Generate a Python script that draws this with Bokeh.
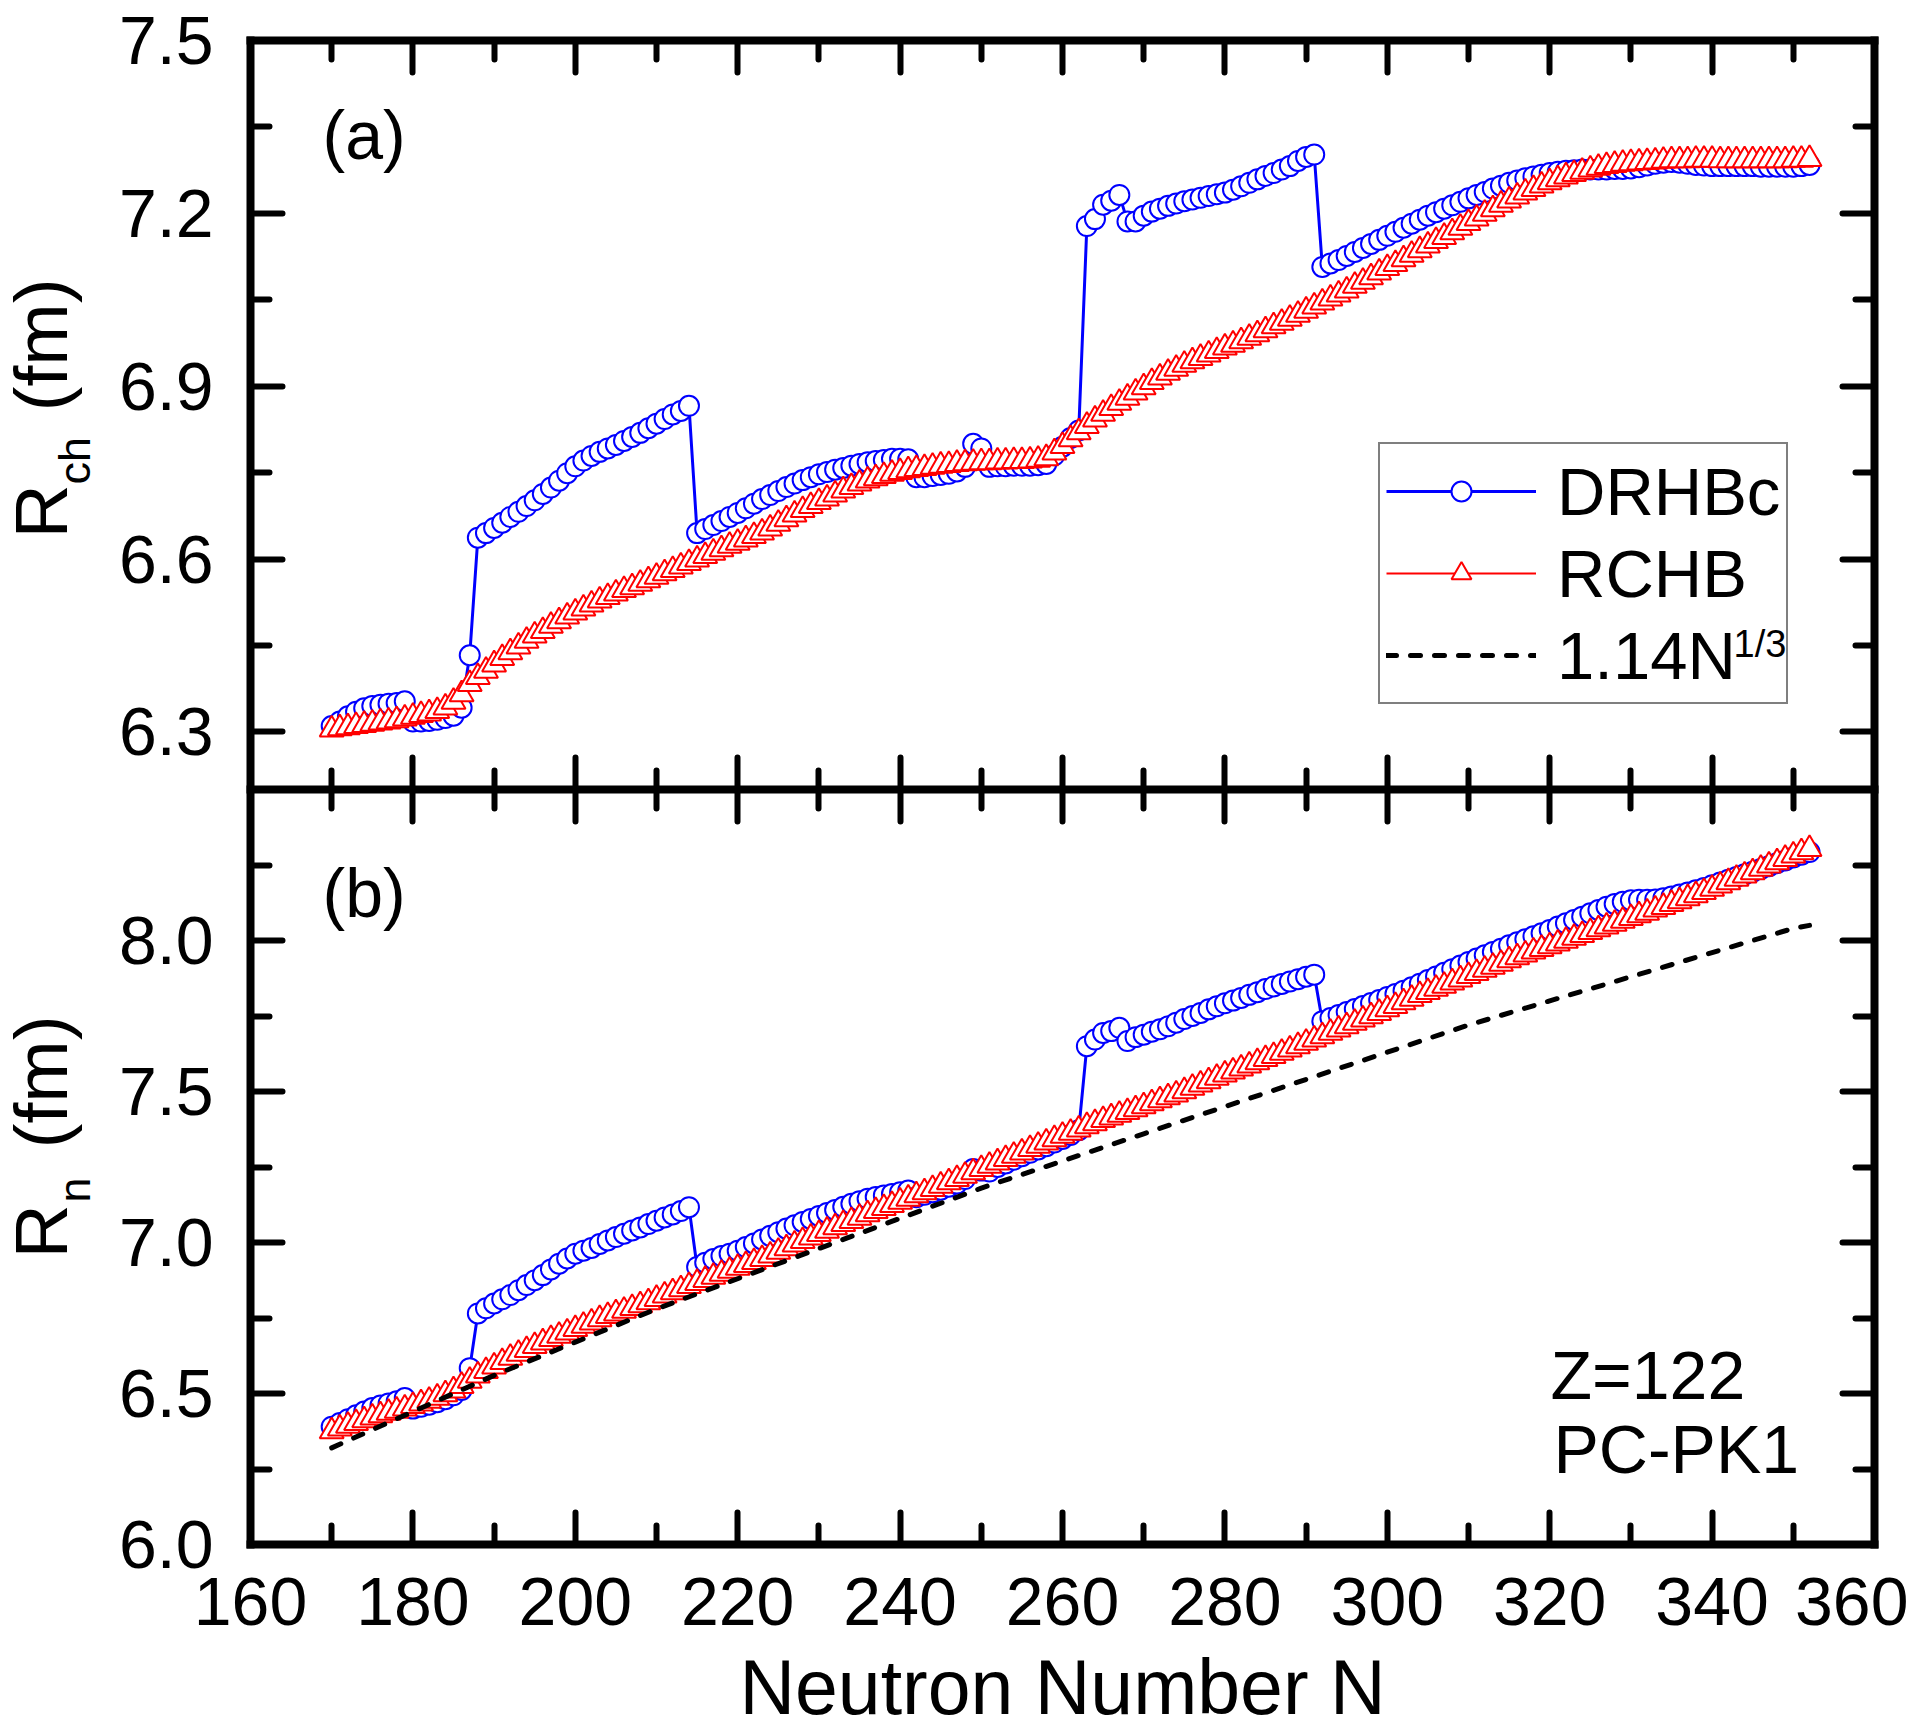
import math
from bokeh.plotting import figure
from bokeh.layouts import column, row
from bokeh.models import (Range1d, FixedTicker, PrintfTickFormatter, LinearAxis,
                          Label, Legend, LegendItem, ColumnDataSource)
from bokeh.embed import file_html
from bokeh.resources import INLINE

FONT = "Liberation Sans"

# neutron numbers (one point per N)
n_vals = list(range(170, 353))

# (a) charge radius, fm
rch_drhbc = [
    6.310, 6.318, 6.327, 6.335, 6.341, 6.345, 6.347, 6.349, 6.350, 6.353,
    6.318, 6.318, 6.319, 6.321, 6.324, 6.328, 6.342, 6.433, 6.637, 6.645,
    6.654, 6.663, 6.673, 6.682, 6.692, 6.702, 6.713, 6.724, 6.736, 6.749,
    6.761, 6.771, 6.779, 6.786, 6.792, 6.798, 6.805, 6.812, 6.819, 6.827,
    6.835, 6.843, 6.851, 6.857, 6.866, 6.645, 6.652, 6.659, 6.666, 6.673,
    6.680, 6.688, 6.696, 6.704, 6.711, 6.718, 6.725, 6.731, 6.737, 6.742,
    6.747, 6.751, 6.755, 6.758, 6.762, 6.765, 6.768, 6.770, 6.772, 6.774,
    6.774, 6.773, 6.742, 6.742, 6.744, 6.746, 6.748, 6.752, 6.760, 6.800,
    6.792, 6.760, 6.761, 6.761, 6.762, 6.762, 6.762, 6.763, 6.765, 6.780,
    6.795, 6.810, 6.823, 7.178, 7.190, 7.215, 7.222, 7.232, 7.186, 7.186,
    7.196, 7.203, 7.208, 7.213, 7.217, 7.221, 7.224, 7.227, 7.230, 7.233,
    7.236, 7.241, 7.247, 7.253, 7.259, 7.265, 7.270, 7.276, 7.282, 7.291,
    7.298, 7.302, 7.107, 7.113, 7.119, 7.126, 7.133, 7.140, 7.147, 7.154,
    7.161, 7.168, 7.175, 7.182, 7.189, 7.196, 7.202, 7.208, 7.214, 7.220,
    7.226, 7.232, 7.237, 7.243, 7.248, 7.253, 7.257, 7.261, 7.264, 7.267,
    7.270, 7.272, 7.274, 7.275, 7.276, 7.276, 7.276, 7.276, 7.277, 7.277,
    7.278, 7.280, 7.283, 7.286, 7.288, 7.289, 7.288, 7.286, 7.284, 7.283,
    7.282, 7.282, 7.282, 7.282, 7.282, 7.282, 7.281, 7.281, 7.281, 7.281,
    7.281, 7.282, 7.284,
]
rch_rchb = [
    6.304, 6.306, 6.308, 6.310, 6.312, 6.314, 6.316, 6.318, 6.320, 6.323,
    6.326, 6.329, 6.332, 6.336, 6.342, 6.352, 6.365, 6.383, 6.395, 6.406,
    6.417, 6.428, 6.438, 6.448, 6.458, 6.467, 6.475, 6.484, 6.492, 6.500,
    6.507, 6.514, 6.521, 6.528, 6.534, 6.540, 6.546, 6.551, 6.557, 6.563,
    6.569, 6.575, 6.581, 6.587, 6.593, 6.599, 6.605, 6.611, 6.617, 6.623,
    6.628, 6.634, 6.640, 6.646, 6.653, 6.661, 6.669, 6.677, 6.685, 6.692,
    6.699, 6.705, 6.712, 6.719, 6.725, 6.731, 6.736, 6.740, 6.744, 6.748,
    6.751, 6.754, 6.756, 6.758, 6.760, 6.762, 6.763, 6.765, 6.766, 6.767,
    6.768, 6.768, 6.769, 6.769, 6.770, 6.770, 6.771, 6.772, 6.775, 6.785,
    6.796, 6.808, 6.820, 6.831, 6.842, 6.852, 6.862, 6.871, 6.880, 6.889,
    6.898, 6.907, 6.915, 6.923, 6.930, 6.937, 6.943, 6.949, 6.955, 6.961,
    6.967, 6.972, 6.978, 6.984, 6.990, 6.997, 7.004, 7.010, 7.017, 7.024,
    7.031, 7.038, 7.045, 7.052, 7.059, 7.066, 7.074, 7.081, 7.089, 7.097,
    7.105, 7.112, 7.120, 7.128, 7.136, 7.144, 7.152, 7.159, 7.167, 7.175,
    7.183, 7.191, 7.199, 7.207, 7.215, 7.222, 7.229, 7.236, 7.242, 7.248,
    7.254, 7.259, 7.264, 7.268, 7.272, 7.276, 7.279, 7.282, 7.284, 7.286,
    7.287, 7.288, 7.289, 7.290, 7.291, 7.292, 7.292, 7.292, 7.293, 7.293,
    7.293, 7.292, 7.292, 7.292, 7.292, 7.292, 7.292, 7.292, 7.292, 7.292,
    7.293, 7.293, 7.294,
]

# (b) neutron radius, fm
rn_drhbc = [
    6.390, 6.402, 6.415, 6.428, 6.440, 6.452, 6.460, 6.467, 6.474, 6.485,
    6.450, 6.456, 6.463, 6.471, 6.481, 6.494, 6.512, 6.584, 6.765, 6.782,
    6.798, 6.812, 6.826, 6.842, 6.859, 6.875, 6.892, 6.911, 6.930, 6.947,
    6.963, 6.973, 6.982, 6.995, 7.007, 7.018, 7.029, 7.040, 7.050, 7.061,
    7.072, 7.083, 7.093, 7.104, 7.117, 6.919, 6.933, 6.945, 6.955, 6.963,
    6.973, 6.985, 6.997, 7.010, 7.022, 7.034, 7.046, 7.057, 7.068, 7.078,
    7.088, 7.098, 7.108, 7.118, 7.128, 7.137, 7.145, 7.151, 7.156, 7.161,
    7.166, 7.172, 7.150, 7.158, 7.166, 7.175, 7.185, 7.195, 7.210, 7.243,
    7.238, 7.235, 7.250, 7.262, 7.274, 7.286, 7.297, 7.308, 7.319, 7.331,
    7.343, 7.356, 7.372, 7.650, 7.672, 7.694, 7.700, 7.711, 7.667, 7.680,
    7.688, 7.698, 7.706, 7.716, 7.728, 7.740, 7.750, 7.760, 7.772, 7.782,
    7.792, 7.801, 7.810, 7.820, 7.829, 7.839, 7.848, 7.856, 7.864, 7.872,
    7.880, 7.887, 7.733, 7.743, 7.753, 7.763, 7.773, 7.783, 7.793, 7.803,
    7.813, 7.823, 7.834, 7.845, 7.857, 7.869, 7.881, 7.893, 7.905, 7.917,
    7.929, 7.940, 7.951, 7.962, 7.973, 7.984, 7.994, 8.004, 8.014, 8.024,
    8.035, 8.046, 8.057, 8.068, 8.079, 8.090, 8.101, 8.112, 8.121, 8.128,
    8.133, 8.135, 8.135, 8.136, 8.140, 8.146, 8.152, 8.159, 8.166, 8.174,
    8.183, 8.192, 8.201, 8.210, 8.219, 8.228, 8.237, 8.246, 8.256, 8.265,
    8.275, 8.284, 8.293,
]
rn_rchb = [
    6.375, 6.384, 6.393, 6.402, 6.411, 6.420, 6.428, 6.436, 6.443, 6.450,
    6.458, 6.467, 6.476, 6.486, 6.497, 6.510, 6.525, 6.542, 6.559, 6.574,
    6.589, 6.604, 6.618, 6.631, 6.644, 6.657, 6.669, 6.680, 6.691, 6.702,
    6.713, 6.724, 6.735, 6.746, 6.756, 6.765, 6.774, 6.783, 6.792, 6.802,
    6.813, 6.824, 6.835, 6.845, 6.856, 6.866, 6.876, 6.886, 6.896, 6.906,
    6.916, 6.925, 6.935, 6.945, 6.957, 6.969, 6.981, 6.993, 7.005, 7.016,
    7.028, 7.039, 7.050, 7.061, 7.071, 7.082, 7.093, 7.104, 7.114, 7.124,
    7.135, 7.145, 7.156, 7.166, 7.177, 7.188, 7.199, 7.210, 7.221, 7.232,
    7.243, 7.254, 7.265, 7.276, 7.287, 7.298, 7.309, 7.320, 7.331, 7.342,
    7.353, 7.363, 7.374, 7.385, 7.395, 7.405, 7.414, 7.423, 7.432, 7.441,
    7.451, 7.461, 7.471, 7.481, 7.490, 7.501, 7.512, 7.523, 7.534, 7.545,
    7.556, 7.566, 7.576, 7.586, 7.597, 7.607, 7.617, 7.628, 7.639, 7.650,
    7.661, 7.672, 7.683, 7.694, 7.705, 7.716, 7.727, 7.738, 7.749, 7.760,
    7.772, 7.783, 7.795, 7.807, 7.819, 7.829, 7.840, 7.850, 7.861, 7.871,
    7.882, 7.892, 7.903, 7.913, 7.923, 7.934, 7.944, 7.953, 7.963, 7.972,
    7.981, 7.990, 7.999, 8.009, 8.018, 8.028, 8.037, 8.046, 8.055, 8.065,
    8.074, 8.083, 8.092, 8.102, 8.111, 8.121, 8.130, 8.140, 8.150, 8.160,
    8.171, 8.182, 8.193, 8.204, 8.215, 8.226, 8.237, 8.248, 8.259, 8.270,
    8.281, 8.292, 8.303,
]

# 1.14 N^(1/3) reference line
n_dash = [170, 180, 190, 200, 210, 220, 230, 240, 250, 260,
          270, 280, 290, 300, 310, 320, 330, 340, 350, 352]
rn_dash = [6.32, 6.44, 6.56, 6.67, 6.78, 6.88, 6.98, 7.08, 7.18, 7.27,
           7.36, 7.45, 7.54, 7.63, 7.72, 7.80, 7.88, 7.96, 8.04, 8.05]

x_major = list(range(160, 361, 20))
x_minor = list(range(170, 351, 20))
ya_major = [6.3, 6.6, 6.9, 7.2, 7.5]
ya_minor = [6.45, 6.75, 7.05, 7.35]
yb_major = [6.0, 6.5, 7.0, 7.5, 8.0]
yb_minor = [6.25, 6.75, 7.25, 7.75, 8.25]

BLUE = "#0000ff"
RED = "#ff0000"
LAB_W = 112     # strip holding the rotated y titles
PLOT_W = 1796
H_A = 789
H_B = 945


def style_axis(ax, major, minor, labels, fmt):
    ax.ticker = FixedTicker(ticks=major, minor_ticks=minor)
    ax.axis_line_width = 8
    ax.axis_line_cap = "square"
    ax.major_tick_in = 32
    ax.major_tick_out = 0
    ax.minor_tick_in = 19
    ax.minor_tick_out = 0
    ax.major_tick_line_width = 6
    ax.minor_tick_line_width = 6
    ax.major_tick_line_cap = "round"
    ax.minor_tick_line_cap = "round"
    ax.formatter = PrintfTickFormatter(format=fmt)
    ax.axis_label = None
    if labels:
        ax.major_label_text_font = FONT
        ax.major_label_text_font_size = "68px"
        ax.major_label_text_color = "black"
    else:
        ax.major_label_text_font_size = "0px"
        ax.major_label_standoff = 0
        ax.major_label_overrides = {t: "" for t in major}


def make_fig(height, yr, top, bottom):
    p = figure(width=PLOT_W, height=height, x_range=xr, y_range=yr,
               output_backend="svg", toolbar_location=None,
               min_border_left=250 - LAB_W, min_border_right=34,
               min_border_top=top, min_border_bottom=bottom)
    p.grid.visible = False
    p.outline_line_color = None
    p.background_fill_color = "white"
    p.border_fill_color = "white"
    return p


def label_strip(height):
    f = figure(width=LAB_W, height=height, x_range=Range1d(0, 1),
               y_range=Range1d(0, 1), output_backend="svg",
               toolbar_location=None, min_border=0,
               x_axis_location=None, y_axis_location=None)
    f.grid.visible = False
    f.outline_line_color = None
    f.border_fill_color = "white"
    return f


def txt(p, text, x, y, size, angle=0.0, align="left"):
    p.add_layout(Label(x=x, y=y, x_units="screen", y_units="screen", text=text,
                       angle=angle, text_align=align, text_baseline="alphabetic",
                       text_font=FONT, text_font_size=size, text_color="black"))


xr = Range1d(160, 360)
UP = math.pi / 2

# ---- panel (a) ----
p1 = make_fig(H_A, Range1d(6.2, 7.5), 40, 0)
style_axis(p1.xaxis[0], x_major, x_minor, False, "%d")
style_axis(p1.yaxis[0], ya_major, ya_minor, True, "%.1f")
p1.yaxis[0].major_label_standoff = 37
for loc, major, minor, fmt in (("above", x_major, x_minor, "%d"),
                               ("right", ya_major, ya_minor, "%.1f")):
    ax = LinearAxis()
    style_axis(ax, major, minor, False, fmt)
    p1.add_layout(ax, loc)

src_a = ColumnDataSource(data=dict(n=n_vals, d=rch_drhbc, r=rch_rchb))
bl = p1.line("n", "d", source=src_a, line_color=BLUE, line_width=3)
bs = p1.scatter("n", "d", source=src_a, marker="circle", size=20,
                line_color=BLUE, line_width=2, fill_color="white")
rl = p1.line("n", "r", source=src_a, line_color=RED, line_width=2)
rs = p1.scatter("n", "r", source=src_a, marker="triangle", size=24,
                line_color=RED, line_width=2, fill_color="white")
# the dashed curve only lives in panel (b); a copy on an off-screen range
# gives panel (a)'s legend its sample
p1.extra_y_ranges = {"off": Range1d(100, 101)}
dl_key = p1.line(n_dash, rn_dash, y_range_name="off", line_color="black",
                 line_width=5, line_dash="10 14", line_cap="round")

legend = Legend(items=[LegendItem(label="DRHBc", renderers=[bl, bs]),
                       LegendItem(label="RCHB", renderers=[rl, rs]),
                       LegendItem(label="1.14N", renderers=[dl_key])],
                location=(1128, 85), orientation="vertical",
                label_text_font=FONT, label_text_font_size="67px",
                label_text_color="black",
                glyph_width=150, glyph_height=50, label_height=82,
                label_standoff=21, spacing=0, padding=6, margin=0,
                border_line_color="black", border_line_width=2.5,
                background_fill_color="white", background_fill_alpha=0.0)
p1.add_layout(legend)
txt(p1, "1/3", 1483, 146, "38px")
txt(p1, "(a)", 72, 655, "68px")

lab1 = label_strip(H_A)
txt(lab1, "R", 40, 251, "75px", UP)
txt(lab1, "ch", 74, 305, "45px", UP)
txt(lab1, "(fm)", 40, 378, "75px", UP)

# ---- panel (b) ----
p2 = make_fig(H_B, Range1d(6.0, 8.5), 0, 190)
style_axis(p2.xaxis[0], x_major, x_minor, True, "%d")
p2.xaxis[0].major_label_standoff = 33
p2.xaxis[0].axis_label = "Neutron Number N"
p2.xaxis[0].axis_label_text_font = FONT
p2.xaxis[0].axis_label_text_font_size = "77px"
p2.xaxis[0].axis_label_text_font_style = "normal"
p2.xaxis[0].axis_label_text_color = "black"
p2.xaxis[0].axis_label_standoff = 16
style_axis(p2.yaxis[0], yb_major, yb_minor, True, "%.1f")
p2.yaxis[0].major_label_standoff = 37
for loc, major, minor, fmt in (("above", x_major, x_minor, "%d"),
                               ("right", yb_major, yb_minor, "%.1f")):
    ax = LinearAxis()
    style_axis(ax, major, minor, False, fmt)
    p2.add_layout(ax, loc)

src_b = ColumnDataSource(data=dict(n=n_vals, d=rn_drhbc, r=rn_rchb))
p2.line("n", "d", source=src_b, line_color=BLUE, line_width=3)
p2.scatter("n", "d", source=src_b, marker="circle", size=20,
           line_color=BLUE, line_width=2, fill_color="white")
p2.line("n", "r", source=src_b, line_color=RED, line_width=2)
p2.scatter("n", "r", source=src_b, marker="triangle", size=24,
           line_color=RED, line_width=2, fill_color="white")
p2.line(n_dash, rn_dash, line_color="black", line_width=5,
        line_dash="10 14", line_cap="round")

txt(p2, "(b)", 72, 652, "68px")
txt(p2, "Z=122", 1300, 170, "68px")
txt(p2, "PC-PK1", 1303, 96, "68px")

# this strip's frame lines up with panel (b)'s frame inside the row
lab2 = label_strip(H_B)
txt(lab2, "R", 40, 286, "75px", UP)
txt(lab2, "n", 74, 342, "45px", UP)
txt(lab2, "(fm)", 40, 396, "75px", UP)

layout = column(row(lab1, p1, spacing=0), row(lab2, p2, spacing=0), spacing=0)
open("out.html", "w").write(file_html(layout, INLINE))
